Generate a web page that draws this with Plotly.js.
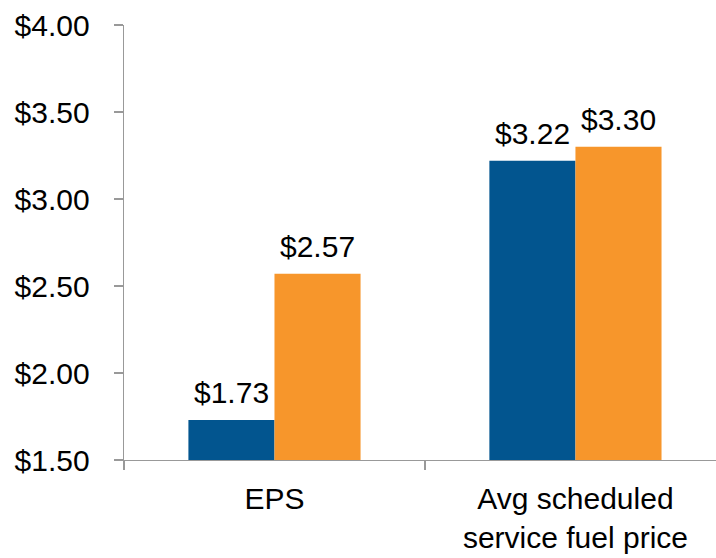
<!DOCTYPE html>
<html><head><meta charset="utf-8">
<script src="https://cdn.plot.ly/plotly-3.0.1.min.js"></script>
<style>html,body{margin:0;padding:0;background:#fff}</style>
</head><body><div id="chart" style="width:716px;height:558px"></div>
<script>
var categories = ["EPS", "Avg scheduled<br>service fuel price"];
var seriesA = [1.73, 3.22];
var seriesB = [2.57, 3.30];
var labelsA = ["$1.73", "$3.22"];
var labelsB = ["$2.57", "$3.30"];
var yTicks = [1.5, 2.0, 2.5, 3.0, 3.5, 4.0];
var yTickText = ["$1.50", "$2.00", "$2.50", "$3.00", "$3.50", "$4.00"];

var blue = "#02558F", orange = "#F7962B";
var font = {family: "Liberation Sans, Arial, sans-serif", size: 30, color: "#000"};
var xfont = {family: "Liberation Sans, Arial, sans-serif", size: 30, color: "#000"};

var traces = [
  {type: "bar", x: categories, y: seriesA, marker: {color: blue}, hoverinfo: "none"},
  {type: "bar", x: categories, y: seriesB, marker: {color: orange}, hoverinfo: "none"}
];

var bw = 0.286;
var annotations = [];
categories.forEach(function(c, i){
  annotations.push({x: i - bw/2, y: seriesA[i], xref: "x", yref: "y", text: labelsA[i], showarrow: false, yanchor: "bottom", yshift: 9, font: font});
  annotations.push({x: i + bw/2, y: seriesB[i], xref: "x", yref: "y", text: labelsB[i], showarrow: false, yanchor: "bottom", yshift: 9, font: font});
});

var layout = {
  width: 716, height: 558,
  margin: {l: 124, r: 0, t: 25, b: 98, pad: 0},
  paper_bgcolor: "#fff", plot_bgcolor: "#fff",
  showlegend: false,
  barmode: "group", bargap: 0.428, bargroupgap: 0,
  font: font,
  xaxis: {
    type: "category", range: [-0.5, 1.467],
    showline: true, linecolor: "#999", linewidth: 1.3,
    ticks: "outside", tickson: "boundaries", ticklen: 9, tickcolor: "#999", tickwidth: 1.3,
    showgrid: false, zeroline: false, tickfont: xfont, ticklabelstandoff: 12
  },
  yaxis: {
    range: [1.5, 4.0], tickvals: yTicks, ticktext: yTickText,
    showline: true, linecolor: "#999", linewidth: 1.3,
    ticks: "outside", ticklen: 9, tickcolor: "#999", tickwidth: 1.3,
    showgrid: false, zeroline: false, tickfont: font, ticklabelstandoff: 18
  },
  annotations: annotations
};
Plotly.newPlot("chart", traces, layout, {displayModeBar: false, staticPlot: true});
</script></body></html>
